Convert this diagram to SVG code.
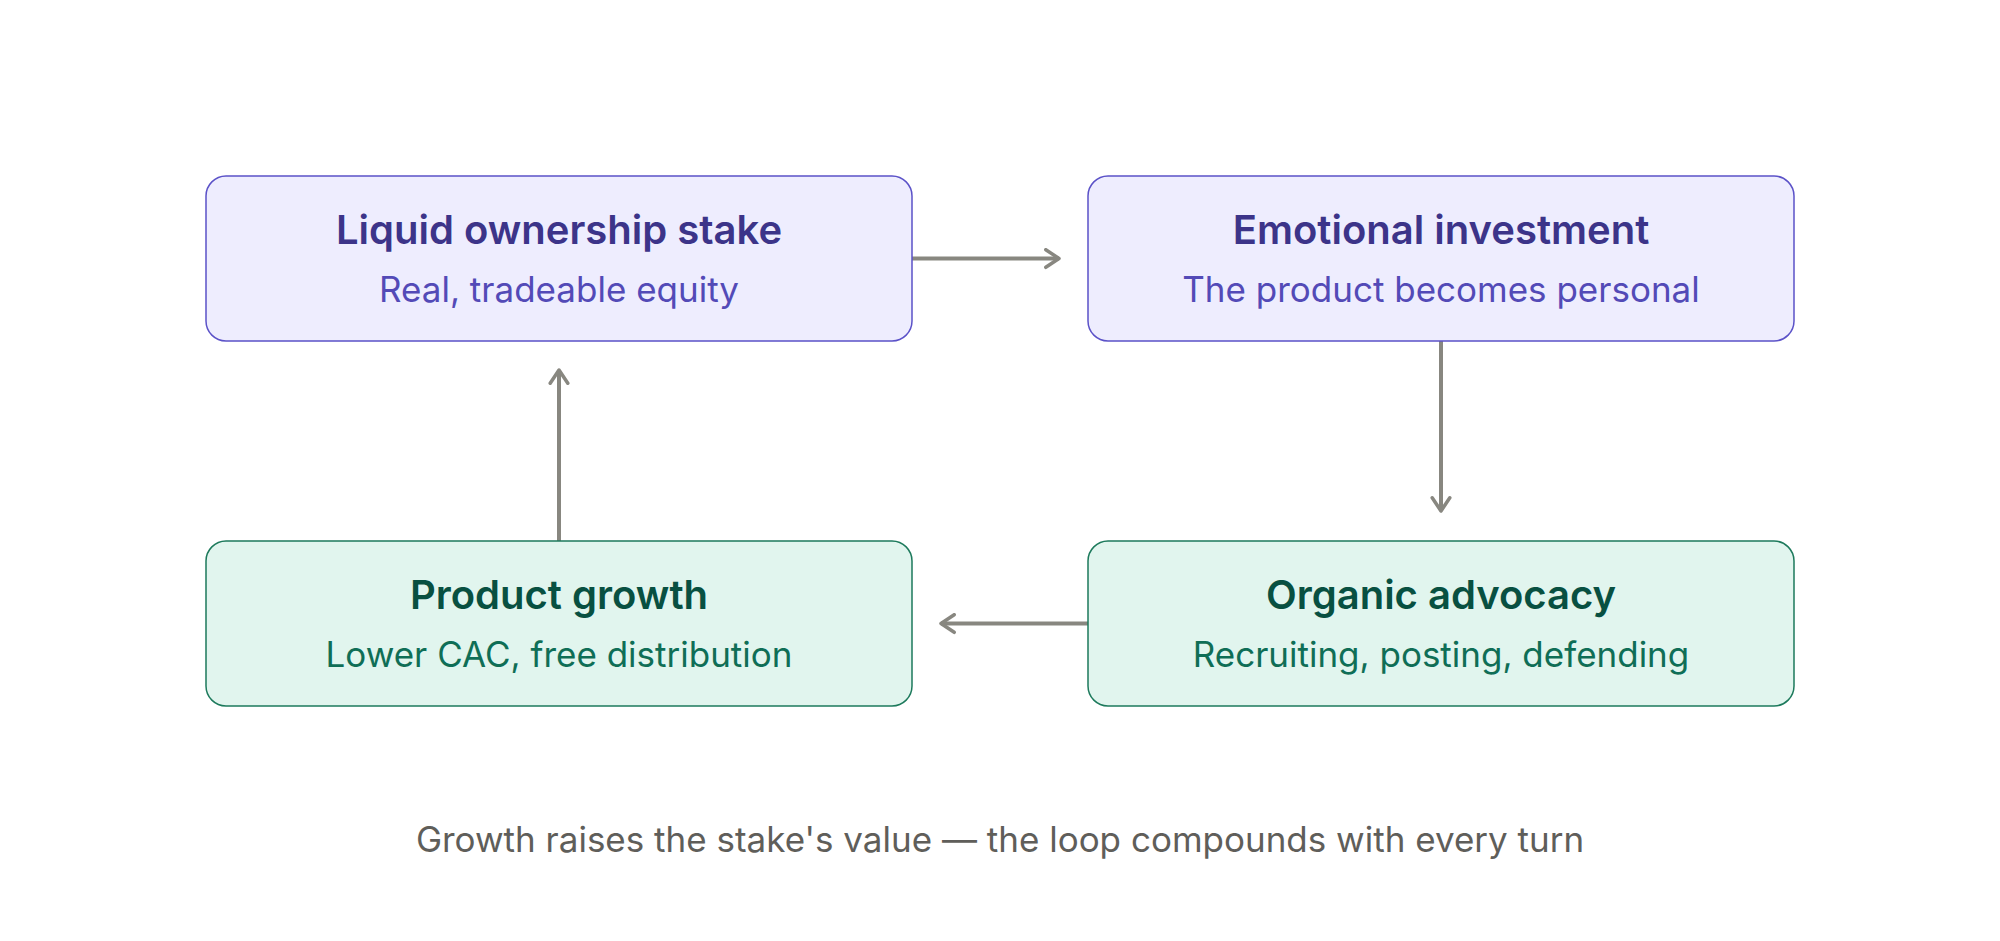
<svg xmlns="http://www.w3.org/2000/svg" width="2000" height="941" viewBox="0 0 2000 941">
<defs>
<style>
.t{font-family:Inter,"Noto Sans","Liberation Sans",sans-serif;text-anchor:middle}
.ti{font-size:40px;font-weight:600}
.su{font-size:35px;font-weight:400}
.pb{fill:#EEEDFE;stroke:#5B52C8;stroke-width:1.5}
.gb{fill:#E1F5EE;stroke:#1D7A5C;stroke-width:1.5}
.pt{fill:#3C3489}.ps{fill:#534AB7}
.gt{fill:#085041}.gs{fill:#0F6E56}
.c{stroke:#888780;stroke-width:4;fill:none}
</style>
<marker id="ah" viewBox="0 0 10 10" refX="8" refY="5" markerWidth="5.5" markerHeight="5.5" markerUnits="strokeWidth" orient="auto">
<path d="M2 1 L8 5 L2 9" fill="none" stroke="#888780" stroke-width="1.6" stroke-linecap="round" stroke-linejoin="round"/>
</marker>
</defs>
<rect width="2000" height="941" fill="#fff"/>
<g id="connectors">
<line class="c" x1="912" y1="258.5" x2="1059" y2="258.5" marker-end="url(#ah)"/>
<line class="c" x1="1441" y1="341" x2="1441" y2="511" marker-end="url(#ah)"/>
<line class="c" x1="1088" y1="623.5" x2="941" y2="623.5" marker-end="url(#ah)"/>
<line class="c" x1="559" y1="541" x2="559" y2="370" marker-end="url(#ah)"/>
</g>
<g id="node-liquid">
<rect class="pb" x="206" y="176" width="706" height="165" rx="20"/>
<text class="t ti pt" x="559" y="244">Liquid ownership stake</text>
<text class="t su ps" x="559" y="302">Real, tradeable equity</text>
</g>
<g id="node-emotional">
<rect class="pb" x="1088" y="176" width="706" height="165" rx="20"/>
<text class="t ti pt" x="1441" y="244">Emotional investment</text>
<text class="t su ps" x="1441" y="302">The product becomes personal</text>
</g>
<g id="node-organic">
<rect class="gb" x="1088" y="541" width="706" height="165" rx="20"/>
<text class="t ti gt" x="1441" y="609">Organic advocacy</text>
<text class="t su gs" x="1441" y="667">Recruiting, posting, defending</text>
</g>
<g id="node-growth">
<rect class="gb" x="206" y="541" width="706" height="165" rx="20"/>
<text class="t ti gt" x="559" y="609">Product growth</text>
<text class="t su gs" x="559" y="667">Lower CAC, free distribution</text>
</g>
<text class="t" x="1000" y="852" font-size="35" fill="#5F5E5A">Growth raises the stake's value — the loop compounds with every turn</text>
</svg>
